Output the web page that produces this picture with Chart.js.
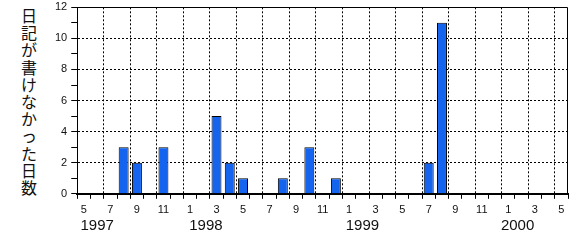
<!DOCTYPE html>
<html><head><meta charset="utf-8">
<script src="https://cdn.jsdelivr.net/npm/chart.js@4.4.1/dist/chart.umd.min.js"></script>
<style>
html,body{margin:0;padding:0;background:#fff;}
#wrap{position:relative;width:580px;height:240px;overflow:hidden;}
#ytitle{position:absolute;left:20px;top:7px;width:18px;font-family:"Noto Sans CJK JP";font-size:16px;line-height:17.2px;line-break:anywhere;word-break:break-all;color:#111;text-align:center;}
#c{position:absolute;left:0;top:0;}
</style></head><body>
<div id="wrap"><div id="ytitle"></div><canvas id="c" width="580" height="240"></canvas></div>
<script>
const yTitle = '日記が書けなかった日数';
const categories = ['1997-05','1997-06','1997-07','1997-08','1997-09','1997-10','1997-11','1997-12',
  '1998-01','1998-02','1998-03','1998-04','1998-05','1998-06','1998-07','1998-08','1998-09','1998-10','1998-11','1998-12',
  '1999-01','1999-02','1999-03','1999-04','1999-05','1999-06','1999-07','1999-08','1999-09','1999-10','1999-11','1999-12',
  '2000-01','2000-02','2000-03','2000-04','2000-05'];
const daysMissed = [0,0,0,3,2,0,3,0,
  0,0,5,2,1,0,0,1,0,3,0,1,
  0,0,0,0,0,0,2,11,0,0,0,0,
  0,0,0,0,0];
const yTicks = [0,2,4,6,8,10,12];
const yearLabels = ['1997','1998','1999','2000'];
const yearPositions = [1.0, 9.2, 21.0, 32.7];

document.getElementById('ytitle').textContent = yTitle;

const frame = {
  id:'frame',
  afterDraw(chart){
    const {ctx, chartArea:{left,top,right,bottom}} = chart;
    ctx.save();
    ctx.strokeStyle='#000'; ctx.lineWidth=1;
    ctx.beginPath();
    const t = Math.round(top)+0.5, r = Math.round(right)-0.5;
    ctx.moveTo(left, t); ctx.lineTo(r, t); ctx.lineTo(r, bottom);
    ctx.stroke();
    // year labels, positioned along the x scale
    const xs = chart.scales.x;
    const n = categories.length;
    ctx.fillStyle = '#111';
    ctx.font = '15px "Liberation Sans"';
    ctx.textAlign = 'center';
    ctx.textBaseline = 'middle';
    yearLabels.forEach((lab, i) => {
      const px = xs.left + (yearPositions[i] + 0.5) / n * xs.width;
      ctx.fillText(lab, px, xs.bottom + 4);
    });
    ctx.restore();
  }
};

const tickFont = {family:'Liberation Sans', size:11};
new Chart(document.getElementById('c'), {
  type:'bar',
  data:{
    labels: categories,
    datasets:[{
      data: daysMissed,
      backgroundColor:'#1464f0',
      borderColor:'#000',
      borderWidth:1,
      categoryPercentage:1,
      barPercentage:0.75
    }]
  },
  options:{
    responsive:false,
    animation:false,
    layout:{padding:{left:51, right:12, top:2, bottom:18}},
    plugins:{legend:{display:false}, tooltip:{enabled:false}},
    scales:{
      x:{
        type:'category',
        offset:true,
        grid:{offset:true, color:(c)=> c.index%2===0 && c.index>0 ? '#000' : 'rgba(0,0,0,0)', tickColor:'#000', tickLength:5, lineWidth:1},
        border:{display:true, color:'#000', width:2, dash:[2,2]},
        ticks:{autoSkip:false, maxRotation:0, minRotation:0, color:'#111', font:tickFont, padding:5,
          callback:(v,i)=> i%2===0 ? String(parseInt(categories[i].slice(5),10)) : ''}
      },
      y:{
        min:0, max:12,
        ticks:{stepSize:1, autoSkip:false, color:'#111', font:{family:'Liberation Sans', size:11, lineHeight:0.6}, padding:4,
          callback:(v)=> yTicks.includes(v) ? String(v) : ''},
        grid:{color:(c)=> (c.tick && c.tick.value%2===0 && c.tick.value>0 && c.tick.value<12) ? '#000' : 'rgba(0,0,0,0)', tickColor:'#000', tickLength:6, lineWidth:1},
        border:{display:true, color:'#000', width:1, dash:[2,2]}
      }
    }
  },
  plugins:[frame]
});
</script>
</body></html>
